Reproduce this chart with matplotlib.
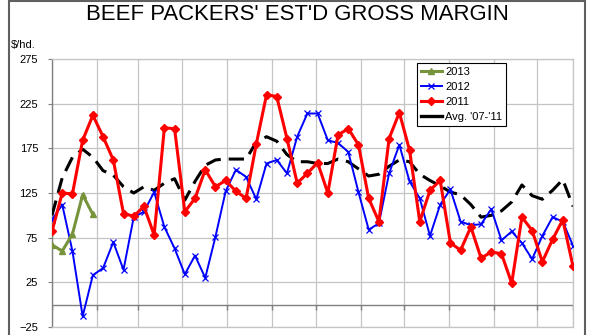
import numpy as np
import matplotlib.pyplot as plt
from matplotlib.lines import Line2D
from matplotlib.patches import Rectangle

plt.rcParams['font.family'] = ['Liberation Sans', 'DejaVu Sans']

# weekly estimated gross margin, $/head
weeks = np.arange(52)
margin_2013 = [67, 60, 79, 123, 101]
margin_2012 = [95, 112, 60, -13, 33, 41, 70, 39, 98, 104,
               126, 87, 63, 34, 55, 30, 76, 127, 151, 143,
               118, 158, 162, 147, 188, 214, 214, 184, 181, 171,
               126, 84, 91, 147, 179, 138, 119, 77, 112, 129,
               93, 89, 90, 107, 72, 82, 69, 51, 77, 98,
               93, 66]
margin_2011 = [82, 125, 124, 184, 212, 188, 162, 102, 99, 110,
               78, 198, 197, 104, 119, 151, 132, 139, 127, 119,
               180, 235, 233, 186, 136, 147, 159, 125, 190, 197,
               179, 119, 93, 186, 215, 173, 93, 128, 139, 69,
               61, 87, 52, 59, 57, 24, 98, 83, 48, 73,
               95, 43]
avg_07_11 = [100, 142, 165, 174, 165, 150, 145, 132, 125, 132,
             128, 136, 141, 117, 138, 156, 162, 163, 163, 163,
             182, 188, 183, 168, 160, 160, 158, 158, 163, 160,
             152, 144, 146, 155, 162, 160, 146, 139, 133, 126,
             123, 112, 98, 100, 105, 115, 134, 122, 118, 128,
             140, 110]

y_ticks = [-25, 25, 75, 125, 175, 225, 275]
# month boundaries on the week scale
month_edges = [0, 4.4, 8.4, 12.75, 17.1, 21.5, 25.8, 30.2, 34.5, 38.9, 43.3, 47.5, 51]

W, H = 595, 335
fig = plt.figure(figsize=(W / 100, H / 100), dpi=100)
ax = fig.add_axes([52 / W, 8 / H, 521 / W, 268 / H])

grid_c = '#c4c4c4'
ax.set_xlim(0, 51)
ax.set_ylim(-25, 275)
ax.set_yticks(y_ticks)
ax.set_xticks(month_edges)
ax.tick_params(axis='x', length=0, labelbottom=False)
ax.tick_params(axis='y', length=3, width=0.8, color='#808080', pad=7, labelsize=8)
ax.grid(True, color=grid_c, lw=0.9)
ax.set_axisbelow(True)
for side in ['top', 'right', 'bottom']:
    ax.spines[side].set_color(grid_c)
    ax.spines[side].set_linewidth(0.9)
ax.spines['left'].set_color('#808080')
ax.spines['left'].set_linewidth(1.0)

# zero line with month tick marks hanging below it
ax.axhline(0, color='#808080', lw=1.0, zorder=1)
ax.vlines(month_edges, -5.5, 0, color='#808080', lw=1.0, zorder=1)

ax.plot(weeks, avg_07_11, color='black', lw=2.2, linestyle=(0, (5, 2.6)),
        dash_capstyle='butt', zorder=3)
ax.plot(weeks, margin_2012, color='#0000ff', lw=1.4, marker='x', ms=4.5,
        mew=0.9, zorder=4)
ax.plot(weeks, margin_2011, color='#ff0000', lw=2.2, marker='D', ms=4,
        zorder=5)
ax.plot(weeks[:len(margin_2013)], margin_2013, color='#77933c', lw=2.2,
        marker='^', ms=5, zorder=6)

handles = [
    Line2D([], [], color='#77933c', lw=2.2, marker='^', ms=5),
    Line2D([], [], color='#0000ff', lw=1.4, marker='x', ms=4.5, mew=0.9),
    Line2D([], [], color='#ff0000', lw=2.2, marker='D', ms=4),
    Line2D([], [], color='black', lw=2.4),
]
labels = ['2013', '2012', '2011', "Avg. '07-'11"]
leg = ax.legend(handles, labels, loc='upper left',
                bbox_to_anchor=((417 - 52) / 521, (327 - 63) / 268),
                borderaxespad=0, fontsize=8, frameon=True, fancybox=False,
                edgecolor='black', framealpha=1, numpoints=1,
                handlelength=1.9, handletextpad=0.3, labelspacing=0.45,
                borderpad=0.35)
leg.get_frame().set_linewidth(0.8)

fig.text(0.5, 1 - 15 / H, "BEEF PACKERS' EST'D GROSS MARGIN",
         ha='center', va='center', fontsize=15.9)
fig.text(11 / W, 1 - 45 / H, r'\$/hd.', ha='left', va='center', fontsize=8)

# outer chart border
fig.patches.append(Rectangle((9 / W, -0.05), 576 / W, 1.05 - 0.5 / H,
                             transform=fig.transFigure, fill=False,
                             edgecolor='#606060', lw=1.5))

fig.savefig('out.png', dpi=100)
